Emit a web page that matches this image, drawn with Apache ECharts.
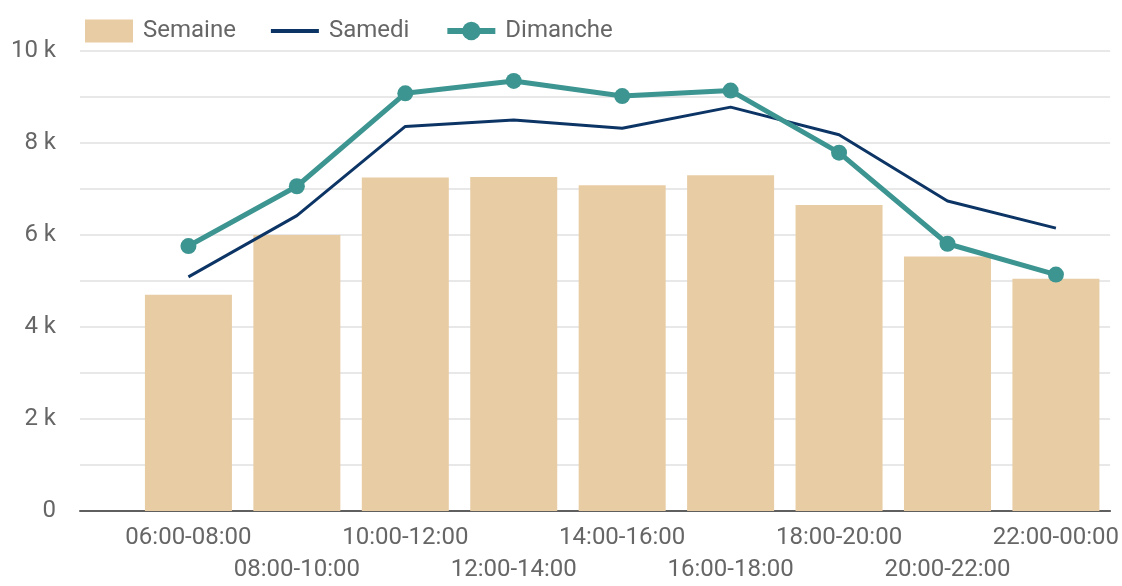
<!DOCTYPE html>
<html>
<head>
<meta charset="utf-8">
<script src="https://cdn.jsdelivr.net/npm/echarts@6/dist/echarts.min.js"></script>
<style>
  html, body { margin: 0; padding: 0; background: #ffffff; }
  #chart { width: 1122px; height: 586px; }
</style>
</head>
<body>
<div id="chart"></div>
<script>
const categories = ['06:00-08:00', '08:00-10:00', '10:00-12:00', '12:00-14:00', '14:00-16:00', '16:00-18:00', '18:00-20:00', '20:00-22:00', '22:00-00:00'];
const semaine  = [4700, 6000, 7250, 7260, 7080, 7300, 6650, 5530, 5050];
const samedi   = [5090, 6420, 8360, 8500, 8320, 8780, 8180, 6740, 6150];
const dimanche = [5760, 7060, 9080, 9350, 9020, 9140, 7790, 5810, 5140];
const yTickLabels = { 0: '0', 2000: '2 k', 4000: '4 k', 6000: '6 k', 8000: '8 k', 10000: '10 k' };

const toPairs = arr => arr.map((v, i) => [i, v]);
const FONT = 'Roboto';

const chart = echarts.init(document.getElementById('chart'), null, { renderer: 'canvas' });
chart.setOption({
  animation: false,
  backgroundColor: '#ffffff',
  grid: { left: 80, right: 11, top: 51, bottom: 72, containLabel: false },
  legend: {
    left: 80, top: 14,
    itemWidth: 48, itemHeight: 23, itemGap: 35,
    textStyle: { fontFamily: FONT, fontSize: 24, color: '#666666', padding: [0, 0, 0, 5] },
    data: [
      { name: 'Semaine', icon: 'rect' },
      { name: 'Samedi', icon: 'path://M0,0H48V4H0Z', itemStyle: { color: '#0C3566' } },
      { name: 'Dimanche', lineStyle: { width: 6 } }
    ]
  },
  xAxis: {
    type: 'value',
    min: -1, max: 8.5, interval: 1,
    splitLine: { show: false },
    axisTick: { show: false },
    axisLine: { show: true, onZero: false, lineStyle: { color: '#5f5f5f', width: 2 } },
    axisLabel: {
      margin: 11,
      fontFamily: FONT, fontSize: 24, lineHeight: 32, color: '#666666',
      formatter: function (v) {
        const i = Math.round(v);
        if (Math.abs(v - i) > 1e-6 || i < 0 || i >= categories.length) return '';
        return (i % 2 ? '\n' : '') + categories[i];
      }
    }
  },
  yAxis: {
    type: 'value',
    min: 0, max: 10000, interval: 1000,
    axisLine: { show: false },
    axisTick: { show: false },
    splitLine: { show: true, lineStyle: { color: '#e8e8e8', width: 2 } },
    axisLabel: {
      margin: 24,
      fontFamily: FONT, fontSize: 24, color: '#666666',
      formatter: function (v) { return yTickLabels[v] !== undefined ? yTickLabels[v] : ''; }
    }
  },
  series: [
    {
      name: 'Semaine', type: 'bar',
      data: toPairs(semaine),
      barWidth: 87,
      itemStyle: { color: '#E8CCA4' },
      z: 1
    },
    {
      name: 'Samedi', type: 'line',
      data: toPairs(samedi),
      symbol: 'none',
      lineStyle: { color: '#0C3566', width: 3 },
      itemStyle: { color: '#0C3566' },
      z: 3
    },
    {
      name: 'Dimanche', type: 'line',
      data: toPairs(dimanche),
      symbol: 'circle', symbolSize: 16, showSymbol: true,
      lineStyle: { color: '#3D9591', width: 5 },
      itemStyle: { color: '#3D9591' },
      z: 4
    }
  ]
});
</script>
</body>
</html>
